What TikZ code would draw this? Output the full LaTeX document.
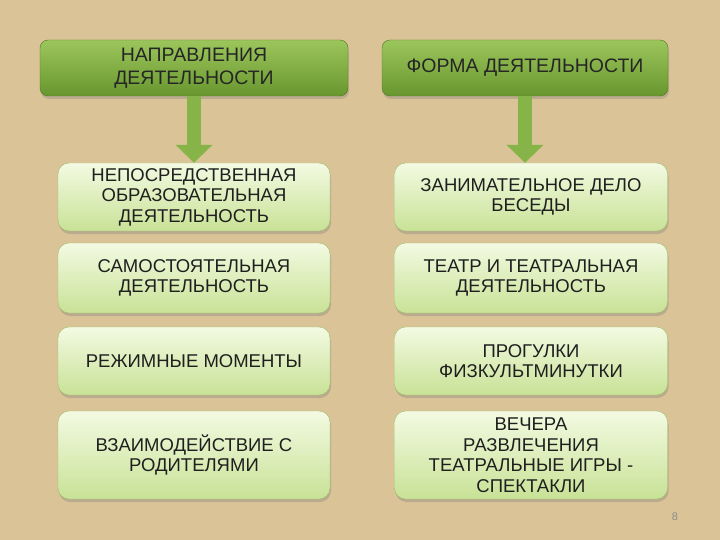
\documentclass[tikz,border=0pt]{standalone}
\usepackage{fontspec}
\setmainfont{Liberation Sans}
\usepackage{xcolor}
\usetikzlibrary{arrows.meta, shadows}

\definecolor{paper}{RGB}{218,195,150}
\definecolor{darktop}{RGB}{156,198,92}
\definecolor{darkbot}{RGB}{104,150,46}
\definecolor{lighttop}{RGB}{243,250,226}
\definecolor{lightbot}{RGB}{200,226,150}
\definecolor{boxline}{RGB}{160,190,110}
\definecolor{arrowgreen}{RGB}{134,180,72}

\tikzset{
  header/.style={rounded corners=8pt, draw=darkbot!80!black, top color=darktop, bottom color=darkbot,
    drop shadow={opacity=0.35, shadow xshift=1pt, shadow yshift=-3pt},
    minimum height=56pt, align=center, text=black!85, font=\fontsize{19.5}{23}\selectfont},
  itembox/.style={rounded corners=11pt, draw=boxline, top color=lighttop, bottom color=lightbot,
    drop shadow={opacity=0.35, shadow xshift=1pt, shadow yshift=-3pt},
    align=center, text=black!88, font=\fontsize{18.5}{20.5}\selectfont},
  leftbox/.style={itembox, minimum width=272pt},
  rightbox/.style={itembox, minimum width=273pt},
  downarrow/.style={draw=arrowgreen, line width=14pt, -{Triangle[width=36pt,length=18pt]}}
}

\begin{document}
\begin{tikzpicture}[x=1pt, y=-1pt]
  \fill[paper] (0,0) rectangle (720,540);
  \useasboundingbox (0,0) rectangle (720,540);

  \node[header, minimum width=308pt] (dir) at (194,68) {НАПРАВЛЕНИЯ\\ДЕЯТЕЛЬНОСТИ};
  \node[header, minimum width=286pt] (form) at (525,68) {ФОРМА ДЕЯТЕЛЬНОСТИ};

  \node[leftbox, minimum height=68pt] (l1) at (194,197) {НЕПОСРЕДСТВЕННАЯ\\ОБРАЗОВАТЕЛЬНАЯ\\ДЕЯТЕЛЬНОСТЬ};
  \node[leftbox, minimum height=70pt] (l2) at (194,278) {САМОСТОЯТЕЛЬНАЯ\\ДЕЯТЕЛЬНОСТЬ};
  \node[leftbox, minimum height=68pt] (l3) at (194,361) {РЕЖИМНЫЕ МОМЕНТЫ};
  \node[leftbox, minimum height=88pt] (l4) at (194,455) {ВЗАИМОДЕЙСТВИЕ С\\РОДИТЕЛЯМИ};

  \node[rightbox, minimum height=68pt] (r1) at (531,197) {ЗАНИМАТЕЛЬНОЕ ДЕЛО\\БЕСЕДЫ};
  \node[rightbox, minimum height=70pt] (r2) at (531,278) {ТЕАТР И ТЕАТРАЛЬНАЯ\\ДЕЯТЕЛЬНОСТЬ};
  \node[rightbox, minimum height=68pt] (r3) at (531,361) {ПРОГУЛКИ\\ФИЗКУЛЬТМИНУТКИ};
  \node[rightbox, minimum height=88pt] (r4) at (531,455) {ВЕЧЕРА\\РАЗВЛЕЧЕНИЯ\\ТЕАТРАЛЬНЫЕ ИГРЫ -\\СПЕКТАКЛИ};

  \draw[downarrow] (dir.south) -- (l1.north);
  \draw[downarrow] (form.south) -- (form.south |- r1.north);

  \node[text=black!45, font=\fontsize{11}{13}\selectfont] (page) at (675,517) {8};
\end{tikzpicture}
\end{document}
